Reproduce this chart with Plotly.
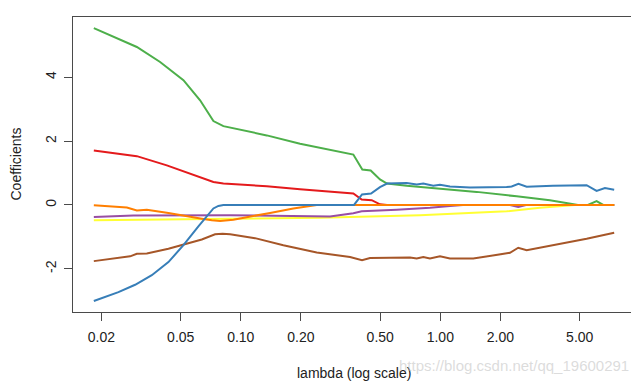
import plotly.graph_objects as go

# ---- data ----
green_lambda = [0.01834, 0.03013, 0.03941, 0.05159, 0.06253, 0.07291, 0.08181, 0.1350, 0.1982, 0.2496,
                0.3665, 0.4066, 0.4480, 0.4986, 0.5408, 0.6787, 1.522, 2.415, 3.544, 4.90, 5.495, 6.075, 6.556, 7.441]
green_coef = [5.54, 4.95, 4.48, 3.91, 3.28, 2.63, 2.47, 2.18, 1.92, 1.79,
              1.58, 1.11, 1.08, 0.80, 0.67, 0.60, 0.41, 0.27, 0.15, 0.0, 0.0, 0.12, 0.0, 0.0]

red_lambda = [0.01834, 0.03013, 0.04259, 0.05787, 0.07291, 0.08181, 0.1350, 0.1982, 0.3145, 0.3665,
              0.4038, 0.4532, 0.4986, 0.5408, 7.441]
red_coef = [1.71, 1.53, 1.24, 0.93, 0.72, 0.67, 0.59, 0.49, 0.39, 0.36,
            0.17, 0.15, 0.02, 0.0, 0.0]

blue_lambda = [0.01834, 0.02436, 0.02954, 0.03581, 0.04338, 0.05159, 0.06131, 0.06757, 0.07291, 0.07721,
               0.08181, 0.3695, 0.4052, 0.4496, 0.4986, 0.5408, 0.6787, 0.7617, 0.8219, 0.9224,
               0.9966, 1.118, 1.409, 2.151, 2.279, 2.465, 2.710, 3.669, 5.414, 6.075, 6.687, 7.441]
blue_coef = [-3.01, -2.73, -2.50, -2.20, -1.79, -1.26, -0.67, -0.35, -0.11, -0.03,
             0.0, 0.0, 0.33, 0.36, 0.56, 0.67, 0.69, 0.64, 0.67, 0.60,
             0.63, 0.58, 0.55, 0.56, 0.58, 0.66, 0.57, 0.60, 0.62, 0.44, 0.53, 0.48]

orange_lambda = [0.01834, 0.02685, 0.03013, 0.03381, 0.04338, 0.05261, 0.06376, 0.07157, 0.07874, 0.09182,
                 0.1179, 0.1402, 0.1834, 0.2403, 7.441]
orange_coef = [-0.01, -0.08, -0.17, -0.15, -0.25, -0.35, -0.43, -0.48, -0.50, -0.46,
               -0.35, -0.25, -0.11, 0.0, 0.0]

purple_lambda = [0.01834, 0.02896, 0.0884, 0.2802, 0.3665, 0.4038, 0.6047, 0.8879, 1.118, 1.299,
                 2.235, 2.459, 2.688, 7.441]
purple_coef = [-0.38, -0.33, -0.32, -0.36, -0.26, -0.20, -0.15, -0.09, -0.03, 0.0,
               0.0, -0.06, 0.0, 0.0]

yellow_lambda = [0.01834, 0.1179, 0.2496, 0.7911, 1.409, 2.151, 3.160, 4.731, 7.441]
yellow_coef = [-0.48, -0.43, -0.40, -0.32, -0.25, -0.20, -0.09, 0.0, 0.0]

brown_lambda = [0.01834, 0.02788, 0.03013, 0.03381, 0.04338, 0.05261, 0.06376, 0.07434, 0.08106, 0.0884,
                0.1179, 0.1634, 0.2403, 0.3528, 0.4052, 0.4444, 0.5598, 0.7049, 0.7617, 0.8219,
                0.8879, 0.9966, 1.118, 1.463, 2.235, 2.459, 2.710, 3.682, 4.638, 5.414, 7.441]
brown_coef = [-1.76, -1.61, -1.53, -1.52, -1.37, -1.23, -1.08, -0.92, -0.90, -0.92,
              -1.04, -1.26, -1.49, -1.63, -1.73, -1.66, -1.65, -1.65, -1.68, -1.63,
              -1.68, -1.61, -1.68, -1.68, -1.50, -1.34, -1.42, -1.26, -1.13, -1.06, -0.87]

x_tick_vals = [0.02, 0.05, 0.1, 0.2, 0.5, 1, 2, 5]
x_tick_text = ["0.02", "0.05", "0.10", "0.20", "0.50", "1.00", "2.00", "5.00"]
y_tick_vals = [-2, 0, 2, 4]
y_tick_text = ["-2", "0", "2", "4"]

series = [
    ("green", green_lambda, green_coef, "#4DAF4A"),
    ("red", red_lambda, red_coef, "#E41A1C"),
    ("yellow", yellow_lambda, yellow_coef, "#FFFF33"),
    ("purple", purple_lambda, purple_coef, "#984EA3"),
    ("brown", brown_lambda, brown_coef, "#A65628"),
    ("orange", orange_lambda, orange_coef, "#FF7F00"),
    ("blue", blue_lambda, blue_coef, "#377EB8"),
]

fig = go.Figure()
for name, lx, ly, col in series:
    fig.add_trace(go.Scatter(x=lx, y=ly, mode="lines", name=name,
                             line=dict(color=col, width=2), showlegend=False,
                             hoverinfo="skip"))

font = "Liberation Sans, Arial, Helvetica, sans-serif"
axis_col = "#4a4a4a"

# page body has an 8px default margin, so the figure is sized to fit the window
fig.update_layout(
    width=631, height=376,
    margin=dict(l=65, r=4, t=9, b=72),
    paper_bgcolor="white", plot_bgcolor="white",
    font=dict(family=font, size=14, color="#222"),
    xaxis=dict(type="log", range=[-1.841, 0.976], tickvals=x_tick_vals, ticktext=x_tick_text,
               showgrid=False, zeroline=False, showline=True, linecolor=axis_col, linewidth=1.3,
               mirror=True, ticks="outside", ticklen=8, tickcolor=axis_col, tickwidth=1.3,
               ticklabelstandoff=4, tickfont=dict(size=14, color="#222")),
    yaxis=dict(range=[-3.354, 5.89], tickvals=y_tick_vals, ticktext=y_tick_text,
               showgrid=False, zeroline=False, showline=True, linecolor=axis_col, linewidth=1.3,
               mirror=True, ticks="outside", ticklen=8, tickcolor=axis_col, tickwidth=1.3,
               tickangle=-90, ticklabelstandoff=2, tickfont=dict(size=14, color="#222")),
    annotations=[
        dict(text="lambda (log scale)", xref="paper", yref="paper", x=0.5, y=0,
             yshift=-61, xanchor="center", yanchor="middle", showarrow=False,
             font=dict(size=14, color="#222")),
        dict(text="Coefficients", xref="paper", yref="paper", x=0, y=0.5,
             xshift=-58, textangle=-90, xanchor="center", yanchor="middle", showarrow=False,
             font=dict(size=14, color="#222")),
        dict(text="https://blog.csdn.net/qq_19600291", xref="paper", yref="paper", x=1, y=0,
             xshift=-4, yshift=-53, xanchor="right", yanchor="middle", showarrow=False,
             font=dict(size=15, color="rgba(190,190,190,0.55)")),
    ],
)

fig.write_html("out.html")
